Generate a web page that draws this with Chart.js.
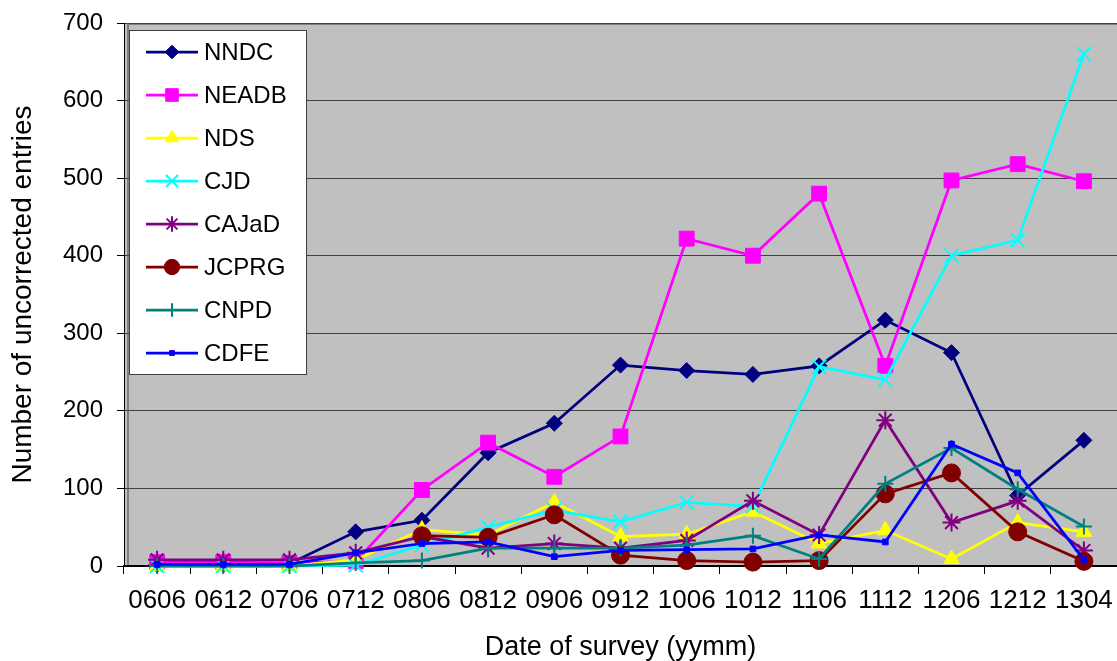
<!DOCTYPE html>
<html>
<head>
<meta charset="utf-8">
<script src="https://cdn.jsdelivr.net/npm/chart.js@4/dist/chart.umd.min.js"></script>
<style>
  html, body { margin: 0; padding: 0; background: #fff; }
  #wrap { width: 1117px; height: 661px; }
</style>
</head>
<body>
<div id="wrap"><canvas id="surveyChart" width="1117" height="661"></canvas></div>
<script>
// survey dates (yymm)
const dates = ['0606','0612','0706','0712','0806','0812','0906','0912','1006','1012','1106','1112','1206','1212','1304'];

// uncorrected entries per centre
const nndc  = [2, 2, 3, 44, 59, 146, 184, 259, 252, 247, 258, 317, 275, 91, 162];
const neadb = [5, 5, 4, 6, 98, 159, 115, 167, 422, 400, 480, 258, 497, 518, 496];
const nds   = [0, 0, 0, 8, 47, 40, 82, 38, 41, 70, 29, 46, 9, 56, 44];
const cjd   = [0, 0, 0, 1, 27, 50, 72, 57, 82, 77, 257, 240, 400, 420, 660];
const cajad = [8, 8, 8, 17, 38, 23, 29, 23, 33, 84, 40, 188, 56, 84, 20];
const jcprg = [null, null, null, null, 39, 37, 66, 14, 7, 5, 7, 93, 120, 44, 6];
const cnpd  = [0, 0, 0, 4, 7, 23, 23, 23, 27, 39, 9, 106, 152, 99, 51];
const cdfe  = [2, 2, 2, 17, 29, 31, 12, 20, 21, 22, 40, 31, 157, 120, 8];

const yTicks = [0, 100, 200, 300, 400, 500, 600, 700];

const series = [
  { label: 'NNDC',  data: nndc,  color: '#000080', style: 'rectRot',  radius: 8,   bw: 1 },
  { label: 'NEADB', data: neadb, color: '#FF00FF', style: 'rect',     radius: 10.5, bw: 1 },
  { label: 'NDS',   data: nds,   color: '#FFFF00', style: 'triangle', radius: 9,   bw: 1 },
  { label: 'CJD',   data: cjd,   color: '#00FFFF', style: 'crossRot', radius: 10,  bw: 2 },
  { label: 'CAJaD', data: cajad, color: '#800080', style: 'star',     radius: 9,   bw: 2 },
  { label: 'JCPRG', data: jcprg, color: '#800000', style: 'circle',   radius: 9,   bw: 1 },
  { label: 'CNPD',  data: cnpd,  color: '#008080', style: 'cross',    radius: 8,   bw: 2 },
  { label: 'CDFE',  data: cdfe,  color: '#0000FF', style: 'rect',     radius: 4,   bw: 1 }
];

const datasets = series.map(function(s, i) {
  return {
    label: s.label,
    data: s.data,
    borderColor: s.color,
    backgroundColor: s.color,
    borderWidth: 2.75,
    pointStyle: s.style,
    pointRadius: s.radius,
    pointHoverRadius: s.radius,
    pointBorderWidth: s.bw,
    pointBackgroundColor: s.color,
    pointBorderColor: s.color,
    tension: 0,
    spanGaps: false,
    clip: false,
    order: -i
  };
});

const tickFont = { family: 'Arial, "Liberation Sans", sans-serif', size: 24 };
const xTickFont = { family: 'Arial, "Liberation Sans", sans-serif', size: 26 };
const xTitleFont = { family: 'Arial, "Liberation Sans", sans-serif', size: 27 };
const yTitleFont = { family: 'Arial, "Liberation Sans", sans-serif', size: 28 };

// grey plot background
const plotBg = {
  id: 'plotBg',
  beforeDraw: function(chart) {
    const a = chart.chartArea, ctx = chart.ctx;
    ctx.save();
    ctx.fillStyle = '#C0C0C0';
    ctx.fillRect(a.left, a.top, a.right - a.left, a.bottom - a.top);
    ctx.strokeStyle = '#808080';
    ctx.lineWidth = 2;
    ctx.beginPath();
    ctx.moveTo(a.left + 4, a.top + 1);
    ctx.lineTo(a.right, a.top + 1);
    ctx.moveTo(a.left + 4, a.top + 1);
    ctx.lineTo(a.left + 4, a.bottom);
    ctx.stroke();
    ctx.restore();
  }
};

// legend box in the upper left, line + marker like the original
const boxLegend = {
  id: 'boxLegend',
  afterDatasetsDraw: function(chart) {
    const ctx = chart.ctx;
    const x0 = 129, y0 = 30, w = 177, h = 344;
    ctx.save();
    ctx.fillStyle = '#ffffff';
    ctx.fillRect(x0, y0, w, h);
    ctx.strokeStyle = '#404040';
    ctx.lineWidth = 1;
    ctx.strokeRect(x0 + 0.5, y0 + 0.5, w, h);
    ctx.font = '24px Arial, "Liberation Sans", sans-serif';
    ctx.textBaseline = 'middle';
    series.forEach(function(s, i) {
      const y = 52 + i * 43;
      ctx.strokeStyle = s.color;
      ctx.fillStyle = s.color;
      ctx.lineWidth = 2.75;
      ctx.beginPath();
      ctx.moveTo(146, y);
      ctx.lineTo(198, y);
      ctx.stroke();
      ctx.lineWidth = s.bw;
      Chart.helpers.drawPoint(ctx, { pointStyle: s.style, radius: s.radius * 0.85, borderWidth: s.bw, rotation: 0 }, 172, y);
      ctx.fillStyle = '#000';
      ctx.fillText(s.label, 204, y + 1);
    });
    ctx.restore();
  }
};

const ctx = document.getElementById('surveyChart');
new Chart(ctx, {
  type: 'line',
  data: { labels: dates, datasets: datasets },
  plugins: [plotBg, boxLegend],
  options: {
    responsive: false,
    animation: false,
    events: [],
    layout: { autoPadding: false, padding: { top: 23, right: 0, left: 0, bottom: -3 } },
    plugins: {
      legend: { display: false },
      tooltip: { enabled: false }
    },
    scales: {
      x: {
        type: 'category',
        offset: true,
        grid: { offset: true, drawOnChartArea: false, tickLength: 8, tickColor: '#000', tickWidth: 1 },
        border: { color: '#000', width: 2 },
        ticks: { color: '#000', font: xTickFont, padding: 11, maxRotation: 0, autoSkip: false },
        title: { display: true, text: 'Date of survey (yymm)', color: '#000', font: xTitleFont, padding: { top: 0, bottom: 0 } },
        afterFit: function(scale) {
          scale.height = 98;
          scale.paddingLeft = 0;
          scale.paddingRight = 0;
        }
      },
      y: {
        min: 0,
        max: 700,
        afterBuildTicks: function(scale) {
          scale.ticks = yTicks.map(function(v) { return { value: v }; });
        },
        grid: { color: '#404040', lineWidth: 1, tickLength: 7, tickColor: '#000' },
        border: { color: '#000', width: 1 },
        ticks: { color: '#000', font: tickFont, padding: 14 },
        title: { display: true, text: 'Number of uncorrected entries', color: '#000', font: yTitleFont, padding: { top: 6, bottom: 0 } },
        afterFit: function(scale) {
          scale.width = 124;
          scale.paddingTop = 0;
          scale.paddingBottom = 0;
        }
      }
    }
  }
});
</script>
</body>
</html>
